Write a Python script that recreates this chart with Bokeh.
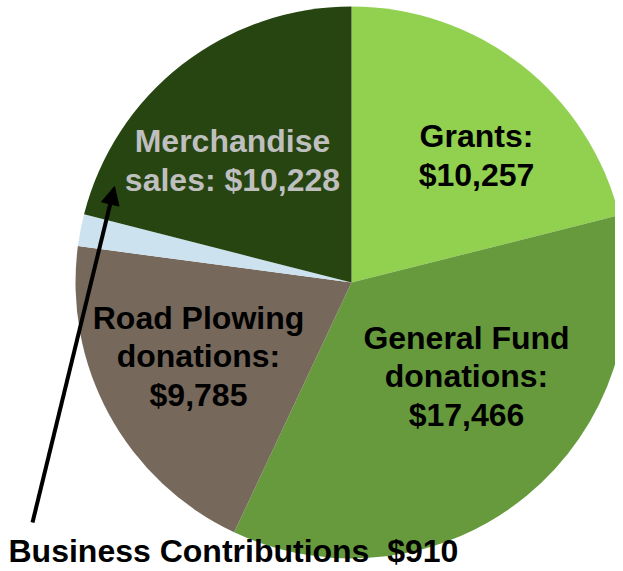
import math
from bokeh.plotting import figure
from bokeh.models import Range1d, ColumnDataSource, Arrow, NormalHead
from bokeh.core.properties import value
from bokeh.embed import file_html
from bokeh.resources import INLINE

# data
categories = ["Grants", "General Fund donations", "Road Plowing donations",
              "Business Contributions", "Merchandise sales"]
amounts = [10257, 17466, 9785, 910, 10228]
colors = ["#92d050", "#669a3d", "#76685b", "#cde2ef", "#264511"]
label_texts = ["Grants:\n$10,257", "General Fund\ndonations:\n$17,466",
               "Road Plowing\ndonations:\n$9,785", "", "Merchandise\nsales: $10,228"]
label_colors = ["#000000", "#000000", "#000000", "#000000", "#bfbfbf"]

W, H = 615, 571
p = figure(width=W, height=H, output_backend="svg", toolbar_location=None,
           x_range=Range1d(0, W), y_range=Range1d(0, H), min_border=0)
p.axis.visible = False
p.grid.visible = False
p.outline_line_color = None
p.background_fill_color = "white"
p.border_fill_color = "white"

def Y(ys):
    return H - ys

cx, cy, r = 351, Y(282), 276
total = sum(amounts)
starts, ends = [], []
cum = 0
for a in amounts:
    s = cum / total
    cum += a
    e = cum / total
    ends.append(math.pi / 2 - s * 2 * math.pi)
    starts.append(math.pi / 2 - e * 2 * math.pi)

src = ColumnDataSource(dict(x=[cx] * 5, y=[cy] * 5, start=starts, end=ends,
                            color=colors, cat=categories))
p.wedge(x="x", y="y", radius=r, start_angle="start", end_angle="end",
        fill_color="color", line_color=None, source=src)

lx = [476, 466, 198, 0, 232]
ly = [Y(155), Y(376), Y(356), 0, Y(160)]
idx = [0, 1, 2, 4]
tsrc = ColumnDataSource(dict(x=[lx[i] for i in idx], y=[ly[i] for i in idx],
                             t=[label_texts[i] for i in idx],
                             c=[label_colors[i] for i in idx]))
p.text(x="x", y="y", text="t", text_color="c", source=tsrc,
       text_font=value("Liberation Sans"), text_font_style="bold",
       text_font_size="32px", text_align="center", text_baseline="middle",
       text_line_height=1.07)

p.text(x=[8], y=[Y(550)], text=["Business Contributions\u00a0 $%d" % amounts[3]],
       text_font=value("Liberation Sans"), text_font_style="bold",
       text_font_size="32px", text_align="left", text_baseline="middle",
       text_color="black")

p.add_layout(Arrow(x_start=32, y_start=Y(522), x_end=114, y_end=Y(186),
                   line_width=4, line_color="black",
                   end=NormalHead(size=18, fill_color="black", line_color="black")))

open("out.html", "w").write(file_html(p, INLINE))
